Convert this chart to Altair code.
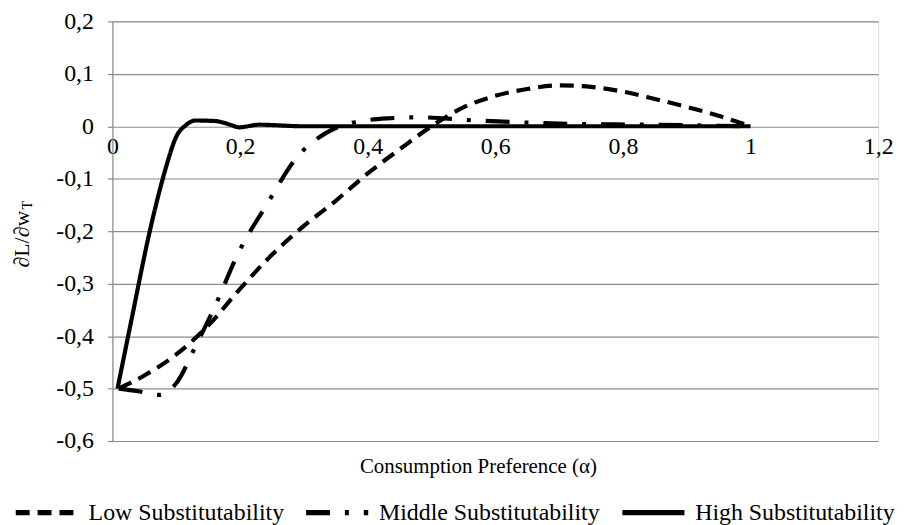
import altair as alt
import pandas as pd

series = ["Low Substitutability", "Middle Substitutability", "High Substitutability"]

low_x = [0.01, 0.05, 0.1, 0.15, 0.2, 0.25, 0.3, 0.35, 0.4, 0.45, 0.5, 0.55, 0.6, 0.65, 0.7, 0.75, 0.8, 0.85, 0.9, 0.95, 1.0]
low_y = [-0.5, -0.475, -0.435, -0.38, -0.31, -0.245, -0.19, -0.142, -0.09, -0.044, 0.0, 0.036, 0.058, 0.071, 0.078, 0.075, 0.066, 0.052, 0.037, 0.02, 0.0]

mid_x = [0.01, 0.04, 0.073, 0.1, 0.13, 0.16, 0.2, 0.24, 0.29, 0.333, 0.37, 0.43, 0.48, 0.57, 0.63, 0.7, 0.84, 1.0]
mid_y = [-0.5, -0.505, -0.512, -0.49, -0.42, -0.345, -0.235, -0.153, -0.058, -0.014, 0.005, 0.015, 0.017, 0.011, 0.008, 0.005, 0.003, 0.0]

high_x = [0.008, 0.031, 0.058, 0.073, 0.084, 0.1, 0.115, 0.13, 0.161, 0.187, 0.198, 0.23, 0.3, 0.5, 0.7, 1.0]
high_y = [-0.5, -0.362, -0.203, -0.127, -0.078, -0.02, 0.002, 0.011, 0.01, 0.002, -0.002, 0.003, 0.0, 0.0, 0.0, 0.0]

x_ticks = [0, 0.2, 0.4, 0.6, 0.8, 1.0, 1.2]
y_ticks = [-0.6, -0.5, -0.4, -0.3, -0.2, -0.1, 0, 0.1, 0.2]

rows = []
for name, xs, ys in [(series[0], low_x, low_y), (series[1], mid_x, mid_y), (series[2], high_x, high_y)]:
    for i, (a, b) in enumerate(zip(xs, ys)):
        rows.append({"series": name, "alpha": a, "value": b, "order": i})
df = pd.DataFrame(rows)

FONT = "Liberation Serif, Times New Roman, DejaVu Serif, serif"
GRID = "#8c8c8c"
label_expr = "replace(replace(format(datum.value, '.1~f'), '.', ','), '\u2212', '-')"

lines = alt.Chart(df).mark_line(color="black", strokeWidth=4.2, interpolate="monotone").encode(
    x=alt.X("alpha:Q", scale=alt.Scale(domain=[0, 1.2], nice=False, zero=False),
            axis=alt.Axis(values=x_ticks, title=None, grid=False, domain=False, ticks=False,
                          offset=-316, labelPadding=8, labelFontSize=24, labelFont=FONT,
                          labelColor="#000000", labelFlush=False, labelOverlap=False,
                          labelExpr=label_expr)),
    y=alt.Y("value:Q", scale=alt.Scale(domain=[-0.6, 0.2], nice=False, zero=False),
            axis=alt.Axis(values=y_ticks, title=None, grid=True, gridColor=GRID, gridWidth=1.2,
                          domain=True, domainColor=GRID, domainWidth=1.2, ticks=True, tickSize=5,
                          tickColor=GRID, tickWidth=1.2, labelPadding=14, labelFontSize=24,
                          labelFont=FONT, labelColor="#000000", labelOverlap=False,
                          labelExpr=label_expr)),
    strokeDash=alt.StrokeDash("series:N",
                              scale=alt.Scale(domain=series, range=[[14, 8], [24, 15, 4, 15], [1, 0]]),
                              sort=series,
                              legend=alt.Legend(orient="none", legendX=-100, legendY=460,
                                                direction="horizontal", columns=3, title=None,
                                                symbolType="stroke", symbolSize=3900,
                                                symbolStrokeWidth=5.5, symbolStrokeColor="black",
                                                labelFontSize=24, labelFont=FONT, labelColor="#000000",
                                                labelOffset=8, columnPadding=10, labelLimit=400)),
    order="order:Q",
)

xtitle = alt.Chart(pd.DataFrame({"t": ["Consumption Preference (\u03b1)"]})).mark_text(
    font=FONT, fontSize=21, color="#000000", align="center", baseline="middle"
).encode(text="t:N", x=alt.value(368), y=alt.value(448))

ytitle = alt.Chart(pd.DataFrame({"t": ["\u2202L/\u2202w"]})).mark_text(
    font=FONT, fontSize=22, color="#000000", align="center", baseline="middle", angle=270
).encode(text="t:N", x=alt.value(-91), y=alt.value(219))

ysub = alt.Chart(pd.DataFrame({"t": ["T"]})).mark_text(
    font=FONT, fontSize=14, color="#000000", align="center", baseline="middle", angle=270
).encode(text="t:N", x=alt.value(-85), y=alt.value(185))

chart = alt.layer(lines, xtitle, ytitle, ysub).properties(
    width=770, height=422,
    autosize=alt.AutoSizeParams(type="none"),
    padding={"left": 105, "top": 12, "right": 27, "bottom": 83},
).configure_view(stroke=None).configure(background="white")

chart.save("out.html", embed_options={"renderer": "svg", "actions": False})
